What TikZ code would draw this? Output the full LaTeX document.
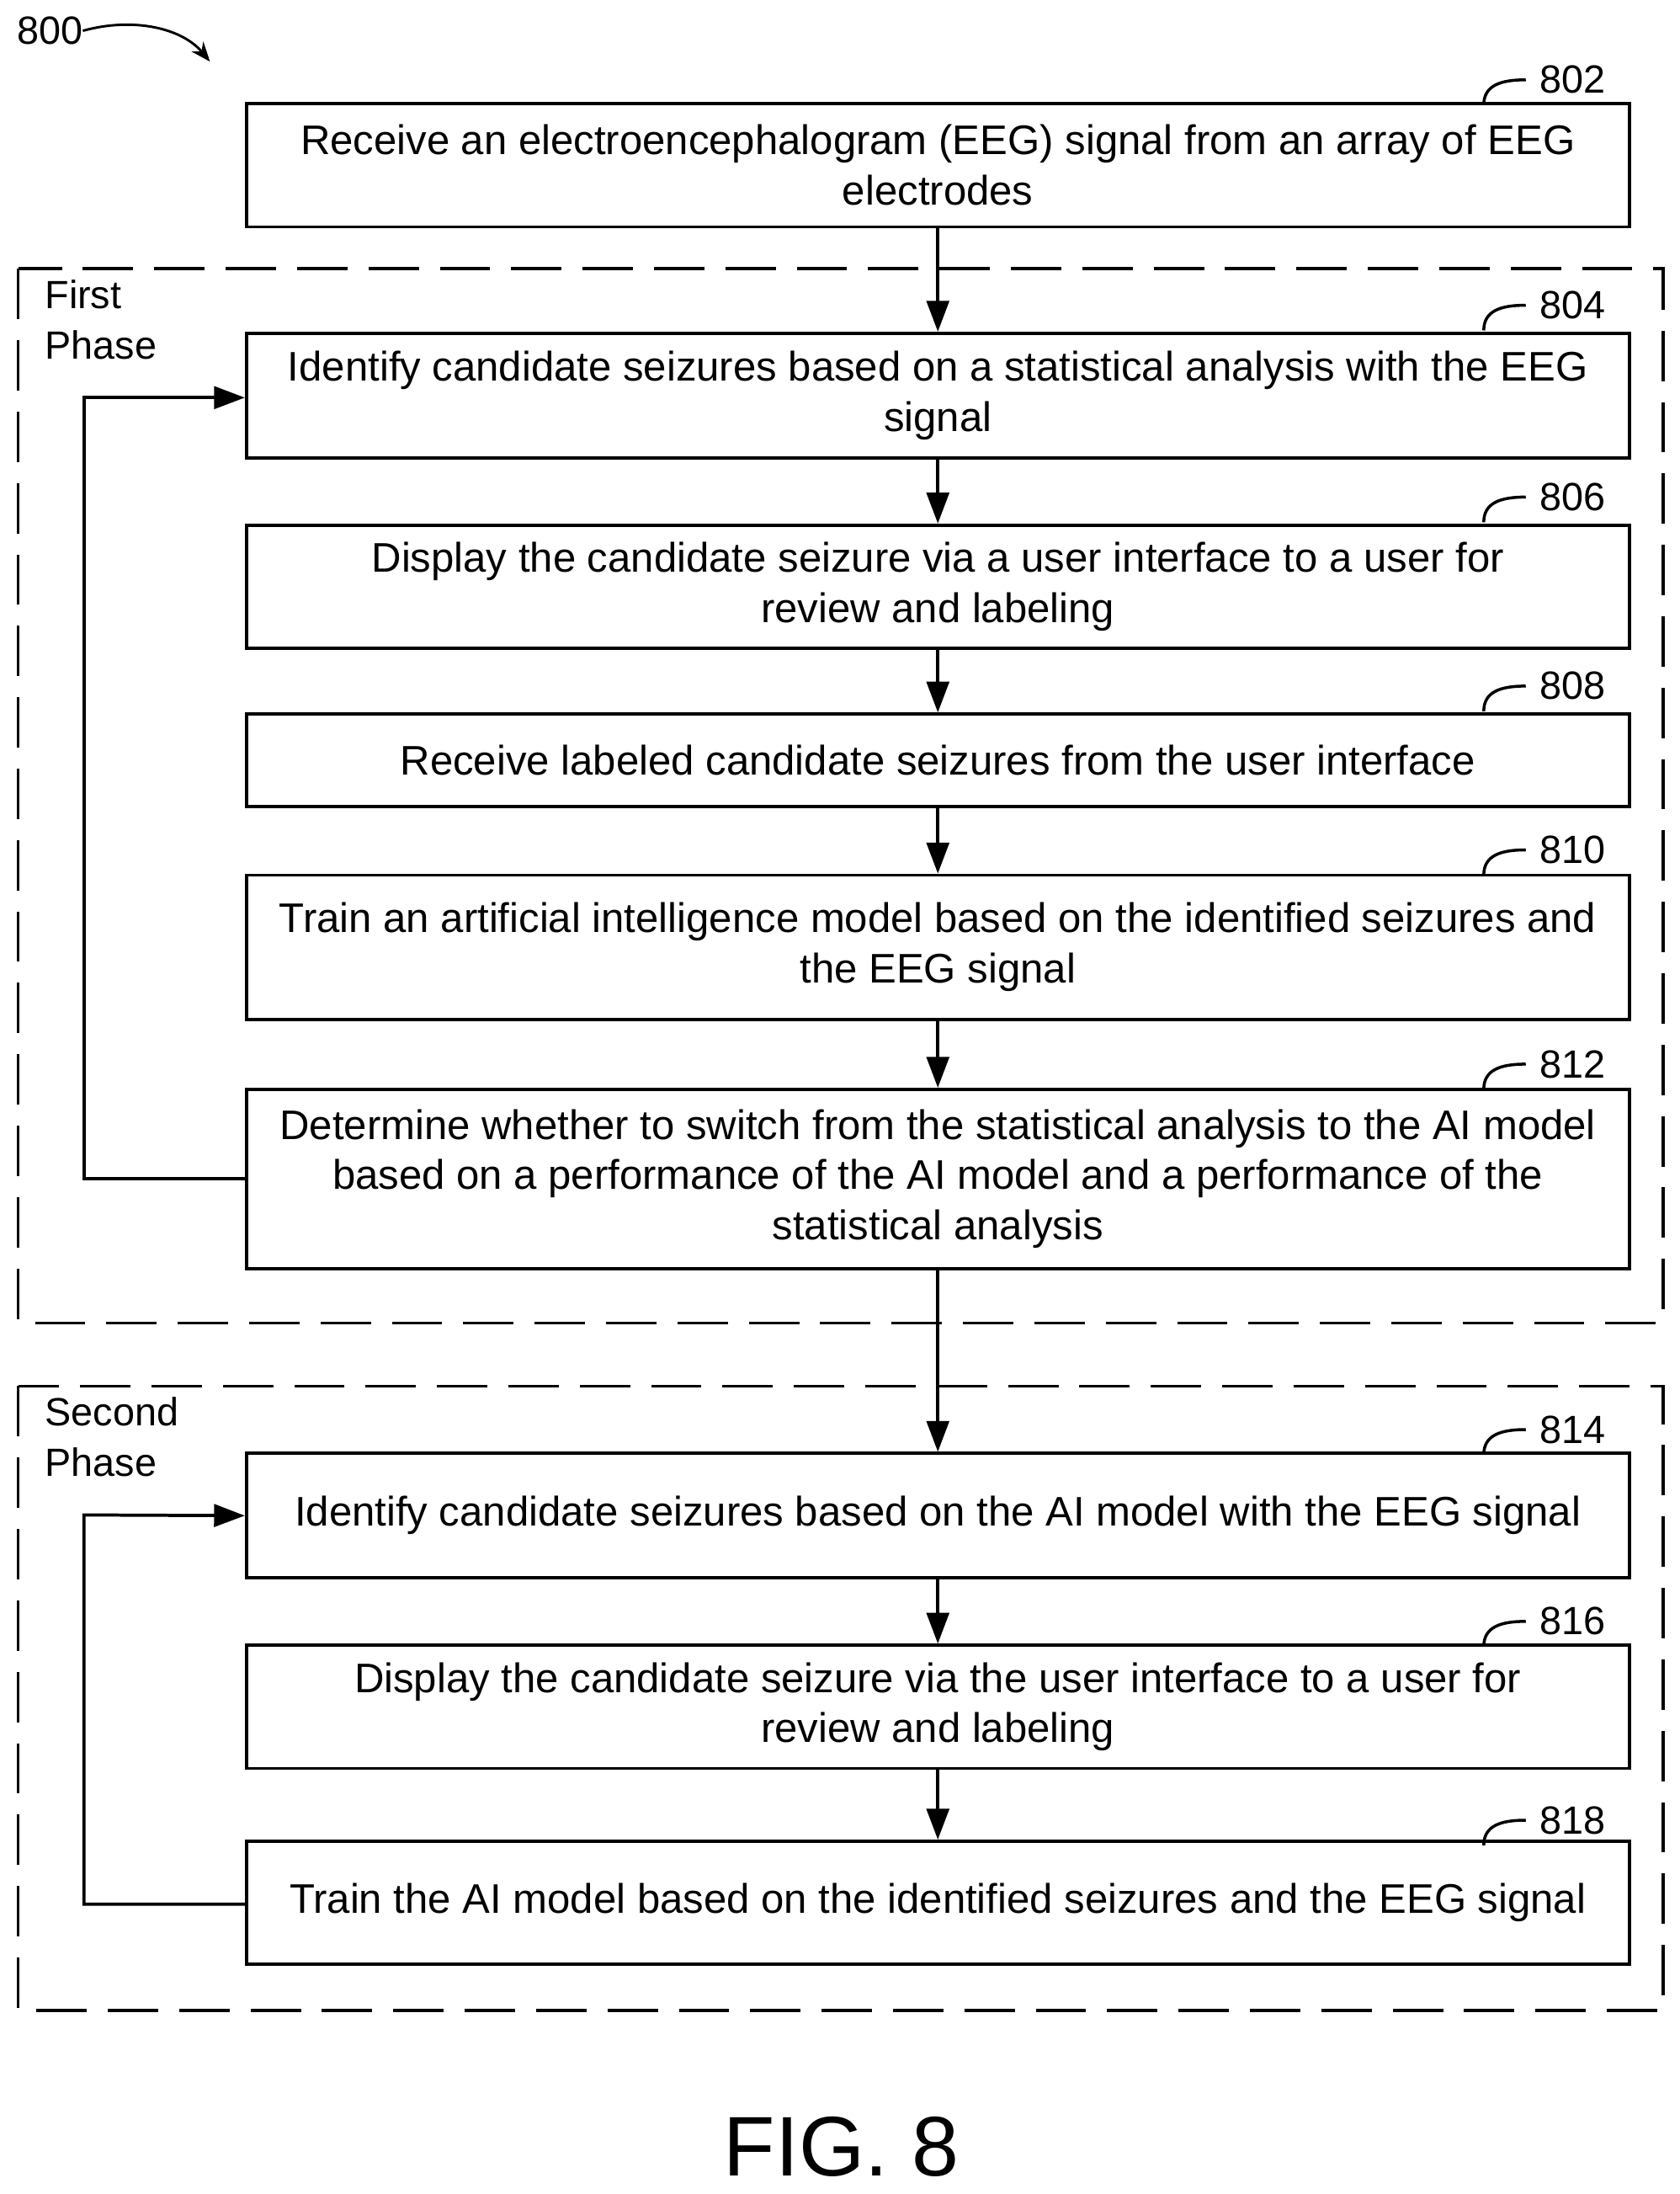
\documentclass[tikz,border=0pt]{standalone}
\usepackage{fontspec}
\setmainfont{Liberation Sans}
\usetikzlibrary{arrows.meta}
\begin{document}
\begin{tikzpicture}[x=0.05cm,y=-0.05cm,
  box/.style={draw,line width=3.2pt,minimum width=49.4cm,align=center,inner sep=0pt,font=\fontsize{42}{51}\selectfont},
  lab/.style={font=\fontsize{40}{48}\selectfont,inner sep=0pt},
  dbox/.style={draw,line width=3.2pt,dash pattern=on 1.8cm off 0.75cm},
  arr/.style={line width=3.2pt,-{Triangle[length=1.1cm,width=0.8cm]}},
  hook/.style={line width=3pt}]
\useasboundingbox (0,0) rectangle (1200,1567);
\draw[dbox] (13,192) rectangle (1188,945);
\draw[dbox] (13,990) rectangle (1188,1436);
\node[lab,align=left,anchor=north west,font=\fontsize{40}{51}\selectfont] (p1) at (32,200) {First\\Phase};
\node[lab,align=left,anchor=north west,font=\fontsize{40}{51}\selectfont] (p2) at (32,998) {Second\\Phase};
\node[box,minimum height=4.4cm] (b802) at (670,118) {Receive an electroencephalogram (EEG) signal from an array of EEG\\electrodes};
\node[box,minimum height=4.45cm] (b804) at (670,282.5) {Identify candidate seizures based on a statistical analysis with the EEG\\signal};
\node[box,minimum height=4.4cm] (b806) at (670,419) {Display the candidate seizure via a user interface to a user for\\review and labeling};
\node[box,minimum height=3.3cm] (b808) at (670,543) {Receive labeled candidate seizures from the user interface};
\node[box,minimum height=5.15cm] (b810) at (670,676.5) {Train an artificial intelligence model based on the identified seizures and\\the EEG signal};
\node[box,minimum height=6.4cm] (b812) at (670,842) {Determine whether to switch from the statistical analysis to the AI model\\based on a performance of the AI model and a performance of the\\statistical analysis};
\node[box,minimum height=4.45cm] (b814) at (670,1082.5) {Identify candidate seizures based on the AI model with the EEG signal};
\node[box,minimum height=4.4cm] (b816) at (670,1219) {Display the candidate seizure via the user interface to a user for\\review and labeling};
\node[box,minimum height=4.4cm] (b818) at (670,1359) {Train the AI model based on the identified seizures and the EEG signal};
\foreach \a/\b in {b802/b804,b804/b806,b806/b808,b808/b810,b810/b812,b812/b814,b814/b816,b816/b818}
  \draw[arr] (\a.south) -- (\b.north);
\coordinate (c1) at (60,842); \coordinate (c2) at (60,284);
\draw[arr] (b812.west) -- (c1) -- (c2) -- (c2-|b804.west);
\coordinate (c3) at (60,1360); \coordinate (c4) at (60,1082);
\draw[arr] (b818.west|-c3) -- (c3) -- (c4) -- (b814.west);
\foreach \n/\y in {802/57,804/218,806/355,808/490,810/607,812/760,814/1021,816/1158,818/1300}{
  \node[lab,anchor=west] (l\n) at (1100,\y) {\n};
  \draw[hook] (1060,\y+18) .. controls (1060,\y+4) and (1072,\y) .. (1090,\y);
}
\node[lab,anchor=west] (l800) at (12,22) {800};
\coordinate (e800) at (150,44);
\draw[line width=2.5pt,-{Stealth[length=0.7cm,width=0.55cm]}] (l800.east) .. controls (95,12) and (130,20) .. (e800);
\node[font=\fontsize{86}{100}\selectfont,inner sep=0pt] (fig) at (601,1533) {FIG. 8};
\end{tikzpicture}
\end{document}
